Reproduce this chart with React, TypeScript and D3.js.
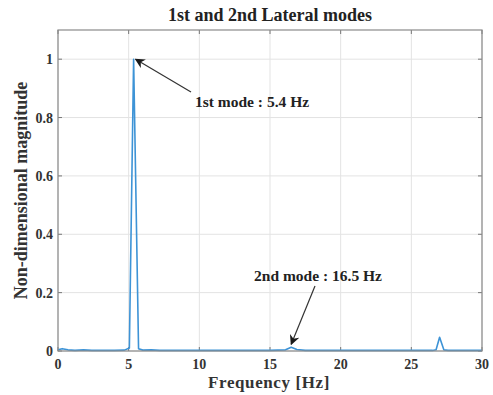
import React from "react";
import * as d3 from "d3";

const freqs = [0, 0.3, 0.7, 1.2, 1.8, 2.4, 3.2, 4.0, 4.7, 5.05, 5.35, 5.7, 6.0, 6.6, 7.2, 9, 12, 15, 16.1, 16.5, 16.9, 17.5, 20, 24, 26.5, 26.75, 27.0, 27.3, 27.6, 30];
const mags = [0.004, 0.008, 0.004, 0.002, 0.004, 0.002, 0.002, 0.002, 0.003, 0.01, 1.0, 0.008, 0.003, 0.004, 0.002, 0.002, 0.002, 0.002, 0.004, 0.013, 0.005, 0.002, 0.002, 0.002, 0.002, 0.004, 0.047, 0.004, 0.002, 0.002];
const xTicks = [0, 5, 10, 15, 20, 25, 30];
const yTicks = [0, 0.2, 0.4, 0.6, 0.8, 1];
const title = "1st and 2nd Lateral modes";
const xLabel = "Frequency [Hz]";
const yLabel = "Non-dimensional magnitude";
const annotations = [
  { text: "1st mode : 5.4 Hz", fx: 5.35, fy: 1.0, tx: 195, ty: 107, sx: 191, sy: 92, anchor: "start" },
  { text: "2nd mode : 16.5 Hz", fx: 16.5, fy: 0.013, tx: 318, ty: 281, sx: 315, sy: 286, anchor: "middle" },
];

export default function App() {
  const W = 493, H = 395;
  const left = 58, right = 482, top = 30, bottom = 351;
  const x = d3.scaleLinear().domain([0, 30]).range([left, right]);
  const y = d3.scaleLinear().domain([0, 1.1]).range([bottom, top]);
  const data = freqs.map((f, i) => [f, mags[i]] as [number, number]);
  const line = d3.line<[number, number]>().x(d => x(d[0])).y(d => y(d[1]));
  const font = "'Liberation Serif', 'Times New Roman', serif";
  return (
    <svg width={W} height={H} style={{ position: "absolute", left: 0, top: 0 }} fontFamily={font}>
      <defs>
        <marker id="ah" viewBox="0 0 10 10" refX="9" refY="5" markerWidth="10" markerHeight="10" orient="auto-start-reverse" markerUnits="userSpaceOnUse">
          <path d="M0,0 L10,5 L0,10 L3,5 z" fill="#1a1a1a" />
        </marker>
      </defs>
      <rect x={0} y={0} width={W} height={H} fill="#fff" />
      {xTicks.map(t => (
        <line key={"gx" + t} x1={x(t)} x2={x(t)} y1={top} y2={bottom} stroke="#e3e3e3" strokeWidth={1} />
      ))}
      {yTicks.map(t => (
        <line key={"gy" + t} x1={left} x2={right} y1={y(t)} y2={y(t)} stroke="#e3e3e3" strokeWidth={1} />
      ))}
      {xTicks.map(t => (
        <g key={"tx" + t}>
          <line x1={x(t)} x2={x(t)} y1={bottom} y2={bottom - 4} stroke="#777" />
          <line x1={x(t)} x2={x(t)} y1={top} y2={top + 4} stroke="#777" />
          <text x={x(t)} y={bottom + 18} textAnchor="middle" fontSize={14} fontWeight="bold" fill="#333">{t}</text>
        </g>
      ))}
      {yTicks.map(t => (
        <g key={"ty" + t}>
          <line x1={left} x2={left + 4} y1={y(t)} y2={y(t)} stroke="#777" />
          <line x1={right} x2={right - 4} y1={y(t)} y2={y(t)} stroke="#777" />
          <text x={left - 5} y={y(t) + 5} textAnchor="end" fontSize={14} fontWeight="bold" fill="#333">{t}</text>
        </g>
      ))}
      <path d={line(data) || ""} fill="none" stroke="#3d93d6" strokeWidth={1.6} strokeLinejoin="round" />
      <rect x={left} y={top} width={right - left} height={bottom - top} fill="none" stroke="#8a8a8a" strokeWidth={1.2} />
      <text x={270} y={21} textAnchor="middle" fontSize={18} fontWeight="bold" fill="#222">{title}</text>
      <text x={269} y={388} textAnchor="middle" fontSize={17} fontWeight="bold" fill="#333" letterSpacing={0.6}>{xLabel}</text>
      <text transform={`translate(27,${(top + bottom) / 2}) rotate(-90)`} textAnchor="middle" fontSize={18} fontWeight="bold" fill="#333">{yLabel}</text>
      {annotations.map(a => (
        <g key={a.text}>
          <line x1={a.sx} y1={a.sy} x2={x(a.fx) + (a.fx < 10 ? 2 : 0)} y2={y(a.fy) - (a.fx < 10 ? 0 : 3)} stroke="#333" strokeWidth={1.2} markerEnd="url(#ah)" />
          <text x={a.tx} y={a.ty} textAnchor={a.anchor as any} fontSize={15.5} fontWeight="bold" fill="#222">{a.text}</text>
        </g>
      ))}
    </svg>
  );
}
